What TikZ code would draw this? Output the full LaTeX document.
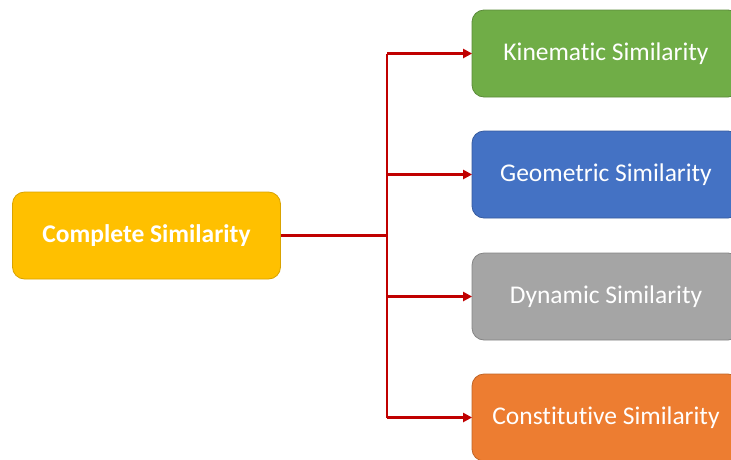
\documentclass[tikz,border=0pt]{standalone}
\usepackage{fontspec}
\setmainfont{Carlito}[Ligatures=NoCommon]
\usetikzlibrary{arrows.meta}
\definecolor{cyellow}{HTML}{FFC000}
\definecolor{cgreen}{HTML}{70AD47}
\definecolor{cblue}{HTML}{4472C4}
\definecolor{cgray}{HTML}{A5A5A5}
\definecolor{corange}{HTML}{ED7D31}
\definecolor{cred}{HTML}{C00000}
\tikzset{
  box/.style={rounded corners=12pt, minimum width=268pt, minimum height=87pt,
    inner sep=0pt, text=white, font=\fontsize{25.5}{28}\selectfont, line width=0.8pt},
  conn/.style={draw=cred, line width=2.4pt},
  arr/.style={conn, -{Triangle[length=9pt,width=9pt]}, shorten >=-0.5pt}
}
\begin{document}
\begin{tikzpicture}[x=1pt,y=1pt]
\clip (0,0) rectangle (731,-459);
\useasboundingbox (0,0) rectangle (731,-459);
\node[box, fill=cyellow, draw=cyellow!85!black, font=\fontsize{25.5}{28}\selectfont\bfseries] (cs) at (146.5,-235.5) {Complete Similarity};
\node[box, fill=cgreen, draw=cgreen!80!black] (kin) at (606,-53.5) {Kinematic Similarity};
\node[box, fill=cblue, draw=cblue!80!black] (geo) at (606,-174.5) {Geometric Similarity};
\node[box, fill=cgray, draw=cgray!80!black] (dyn) at (606,-296.5) {Dynamic Similarity};
\node[box, fill=corange, draw=corange!80!black] (con) at (606,-417.5) {Constitutive Similarity};
\coordinate (jx) at (387,0);
\draw[conn] (cs.east) -- (cs.east -| jx);
\draw[conn] (jx |- kin.west) -- (jx |- con.west);
\draw[arr] (jx |- kin.west) -- (kin.west);
\draw[arr] (jx |- geo.west) -- (geo.west);
\draw[arr] (jx |- dyn.west) -- (dyn.west);
\draw[arr] (jx |- con.west) -- (con.west);
\end{tikzpicture}
\end{document}
